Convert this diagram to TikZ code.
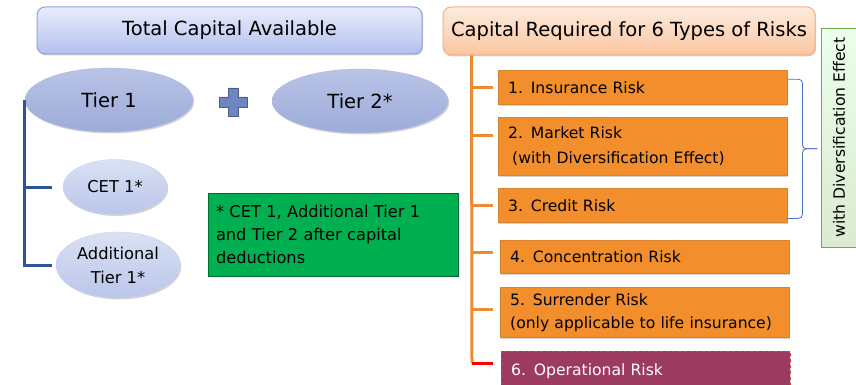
\documentclass[tikz,border=0pt]{standalone}
\usepackage{fontspec}
\setmainfont{DejaVu Sans}
\usepackage{tikz}
\usetikzlibrary{shapes.geometric}
\usetikzlibrary{shadows}
\usetikzlibrary{calc}

\definecolor{capblue}{HTML}{8EA3DE}
\definecolor{capbluetop}{HTML}{E9ECFA}
\definecolor{capbluebot}{HTML}{B3C1F0}
\definecolor{capora}{HTML}{F4B183}
\definecolor{caporatop}{HTML}{FDEBDD}
\definecolor{caporabot}{HTML}{FAC6A0}
\definecolor{tiertop}{HTML}{B8C3E6}
\definecolor{tierbot}{HTML}{9DABD8}
\definecolor{subtop}{HTML}{DAE1F4}
\definecolor{subbot}{HTML}{BAC6EA}
\definecolor{plusfill}{HTML}{6E85C2}
\definecolor{noteg}{HTML}{00B050}
\definecolor{riskora}{HTML}{F28E2C}
\definecolor{riskedge}{HTML}{D7832F}
\definecolor{oprisk}{HTML}{9D3A5F}
\definecolor{spineora}{HTML}{EE8A30}
\definecolor{brackblue}{HTML}{2F5597}
\definecolor{braceblue}{HTML}{4472C4}
\definecolor{divgreen}{HTML}{70AD47}

\begin{document}
\begin{tikzpicture}[x=1pt,y=-1pt,
  txt/.style={font=\fontsize{15.6}{23}\selectfont},
  bigtxt/.style={font=\fontsize{19.5}{22}\selectfont},
  softshadow/.style={drop shadow={shadow xshift=1.2pt,shadow yshift=-1.5pt,opacity=.35}},
  capbox/.style={rounded corners=8pt,line width=1pt,bigtxt,softshadow},
  tierell/.style={ellipse,inner sep=0pt,draw=tierbot!80!white,top color=tiertop,bottom color=tierbot,
    font=\fontsize{19.5}{22}\selectfont,softshadow},
  subell/.style={ellipse,inner sep=0pt,draw=subbot!80!white,top color=subtop,bottom color=subbot,
    font=\fontsize{16.3}{24}\selectfont,softshadow,align=center},
  riskbox/.style={draw=riskedge,fill=riskora,anchor=north west,minimum width=289pt,
    text width=269pt,inner xsep=10pt,inner ysep=0pt,align=left,txt,softshadow},
  brackline/.style={draw=brackblue,line width=3pt},
  spineline/.style={draw=spineora,line width=3pt}]

\useasboundingbox (0,0) rectangle (856,385);

% Total Capital Available
\node[capbox,draw=capblue,top color=capbluetop,bottom color=capbluebot,
  minimum width=385pt,minimum height=47pt] (totcap) at (229.5,30.5) {Total Capital Available};

% Capital Required
\node[capbox,draw=capora,top color=caporatop,bottom color=caporabot,
  minimum width=372pt,minimum height=48pt] (capreq) at (629,31) {Capital Required for 6 Types of Risks};

% Tier 1 + Tier 2
\node[tierell,minimum width=168pt,minimum height=64pt] (tierone) at (109,100) {Tier 1};
\node[tierell,minimum width=176pt,minimum height=64pt] (tiertwo) at (360,101) {Tier 2*};

\coordinate (plus) at (233,102);
\draw[fill=plusfill,draw=plusfill!70!black,line width=.6pt]
  ($(plus)+(-5,-14)$) -- ++(10,0) -- ++(0,9) -- ++(9,0) -- ++(0,10) -- ++(-9,0)
  -- ++(0,9) -- ++(-10,0) -- ++(0,-9) -- ++(-9,0) -- ++(0,-10) -- ++(9,0) -- cycle;

% parts of Tier 1
\node[subell,minimum width=104pt,minimum height=55pt] (cet) at (115,187) {CET 1*};
\node[subell,minimum width=124pt,minimum height=66pt] (addt) at (118,265) {Additional\\Tier 1*};

\draw[brackline] (tierone.west) |- ([xshift=-4pt]addt.west);
\draw[brackline] (tierone.west |- cet.west) -- ([xshift=-11pt]cet.west);

% footnote
\node[draw=noteg!60!black,fill=noteg,line width=.8pt,minimum width=250pt,minimum height=83pt,
  text width=234pt,inner xsep=8pt,align=left,font=\fontsize{16.2}{23}\selectfont] (note) at (333,234.5)
  {* CET 1, Additional Tier 1\\and Tier 2 after capital\\deductions};

% Risks
\node[riskbox,minimum height=34pt] (risk1) at (498,70) {1. Insurance Risk};
\node[riskbox,minimum height=58pt,font=\fontsize{15.6}{25}\selectfont] (risk2) at (498,117)
  {2. Market Risk\\\hspace*{4pt}(with Diversification Effect)};
\node[riskbox,minimum height=34pt] (risk3) at (498,188) {3. Credit Risk};
\node[riskbox,minimum height=33pt] (risk4) at (500,240) {4. Concentration Risk};
\node[riskbox,minimum height=50pt] (risk5) at (500,287)
  {5. Surrender Risk\\(only applicable to life insurance)};
\node[riskbox,draw=red!80!white,fill=oprisk,dashed,text=white,minimum height=40pt] (risk6) at (501,351)
  {6. Operational Risk\\[-4pt]};

\coordinate (spinetop) at ($(capreq.south west)+(29,0)$);
\coordinate (spinebot) at (472,363);
\draw[spineline] (spinetop) -- (spinebot);
\draw[spineline] (spinetop |- risk1.west) -- ([xshift=-5pt]risk1.west);
\draw[spineline] ($(spinetop |- risk2.west)+(0,-11)$) -- ($(risk2.west)+(-5,-11)$);
\draw[spineline] (spinetop |- risk3.west) -- ([xshift=-5pt]risk3.west);
\draw[spineline] ($(spinetop |- risk4.west)+(0,-4)$) -- ($(risk4.west)+(-7,-4)$);
\draw[spineline] ($(spinetop |- risk5.west)+(0,-3)$) -- ($(risk5.west)+(-7,-3)$);
\draw[draw=red,line width=3pt] (spinebot) -- ++(21,0);

% brace over 1 to 3
\coordinate (bt) at ($(risk1.east)+(0,-8)$);
\coordinate (bb) at ($(risk3.south east)+(0,-4)$);
\coordinate (btip) at ($(bt)!.5!(bb)+(30,0)$);
\draw[braceblue,line width=.8pt,rounded corners=4pt] (bt) -- ++(15,0) |- (btip);
\draw[braceblue,line width=.8pt,rounded corners=4pt] (bb) -- ++(15,0) |- (btip);

% side label
\node[rotate=90,draw=divgreen,line width=.8pt,top color=green!8!white,bottom color=divgreen!25!white,
  shading angle=0,minimum width=219pt,minimum height=36pt,inner sep=0pt,txt] (divlabel) at (839,137.5)
  {with Diversification Effect};

\end{tikzpicture}
\end{document}
